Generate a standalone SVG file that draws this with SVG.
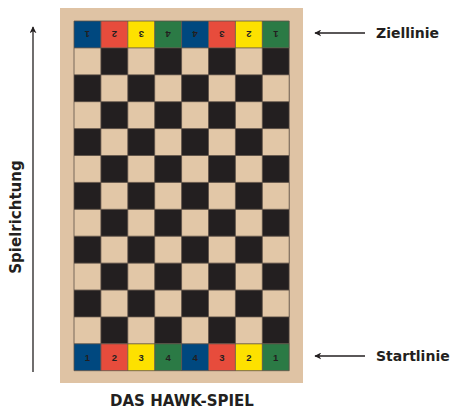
<svg xmlns="http://www.w3.org/2000/svg" width="454" height="410" viewBox="0 0 454 410">
  <defs>
    <style>
      .board { fill: #dfc3a4; }
      .lt { fill: #e2c7a7; }
      .dk { fill: #231f20; }
      .b { fill: #00487f; }
      .r { fill: #e74c3c; }
      .y { fill: #fde100; }
      .g { fill: #2b7a45; }
      .grid { fill: none; stroke: #5e5247; stroke-width: 0.8; }
      .num { font-family: "Liberation Sans", Arial, sans-serif; font-size: 9.5px; font-weight: bold; fill: #231f20; text-anchor: middle; }
      .lbl { font-family: "DejaVu Sans", "Liberation Sans", sans-serif; font-size: 14px; font-weight: bold; fill: #231f20; }
      .line { stroke: #231f20; stroke-width: 1.3; fill: none; }
    </style>
    <marker id="ah" viewBox="0 0 10 10" refX="9" refY="5" markerWidth="7" markerHeight="7" markerUnits="userSpaceOnUse" orient="auto">
      <path d="M0,0 L10,5 L0,10 L3,5 Z" fill="#231f20"/>
    </marker>
    <pattern id="chk" x="74" y="48" width="53.8" height="53.8" patternUnits="userSpaceOnUse">
      <rect width="53.8" height="53.8" class="dk"/>
      <rect x="0" y="0" width="26.9" height="26.9" class="lt"/>
      <rect x="26.9" y="26.9" width="26.9" height="26.9" class="lt"/>
    </pattern>
  </defs>

  <rect width="454" height="410" fill="#ffffff"/>

  <!-- board -->
  <g id="board">
    <rect class="board" x="60" y="8" width="243" height="375"/>
    <rect x="74" y="47.9" width="215.2" height="295.9" fill="url(#chk)"/>

    <!-- finish row (numbers upside down) -->
    <g id="finish-row">
      <rect class="b" x="74" y="21" width="26.9" height="26.9"/>
      <rect class="r" x="100.9" y="21" width="26.9" height="26.9"/>
      <rect class="y" x="127.8" y="21" width="26.9" height="26.9"/>
      <rect class="g" x="154.7" y="21" width="26.9" height="26.9"/>
      <rect class="b" x="181.6" y="21" width="26.9" height="26.9"/>
      <rect class="r" x="208.5" y="21" width="26.9" height="26.9"/>
      <rect class="y" x="235.4" y="21" width="26.9" height="26.9"/>
      <rect class="g" x="262.3" y="21" width="26.9" height="26.9"/>
      <text class="num" transform="translate(87.45,34.45) rotate(180)" y="3.4">1</text>
      <text class="num" transform="translate(114.35,34.45) rotate(180)" y="3.4">2</text>
      <text class="num" transform="translate(141.25,34.45) rotate(180)" y="3.4">3</text>
      <text class="num" transform="translate(168.15,34.45) rotate(180)" y="3.4">4</text>
      <text class="num" transform="translate(195.05,34.45) rotate(180)" y="3.4">4</text>
      <text class="num" transform="translate(221.95,34.45) rotate(180)" y="3.4">3</text>
      <text class="num" transform="translate(248.85,34.45) rotate(180)" y="3.4">2</text>
      <text class="num" transform="translate(275.75,34.45) rotate(180)" y="3.4">1</text>
    </g>

    <!-- start row -->
    <g id="start-row">
      <rect class="b" x="74" y="343.8" width="26.9" height="26.9"/>
      <rect class="r" x="100.9" y="343.8" width="26.9" height="26.9"/>
      <rect class="y" x="127.8" y="343.8" width="26.9" height="26.9"/>
      <rect class="g" x="154.7" y="343.8" width="26.9" height="26.9"/>
      <rect class="b" x="181.6" y="343.8" width="26.9" height="26.9"/>
      <rect class="r" x="208.5" y="343.8" width="26.9" height="26.9"/>
      <rect class="y" x="235.4" y="343.8" width="26.9" height="26.9"/>
      <rect class="g" x="262.3" y="343.8" width="26.9" height="26.9"/>
      <text class="num" x="87.45" y="360.6">1</text>
      <text class="num" x="114.35" y="360.6">2</text>
      <text class="num" x="141.25" y="360.6">3</text>
      <text class="num" x="168.15" y="360.6">4</text>
      <text class="num" x="195.05" y="360.6">4</text>
      <text class="num" x="221.95" y="360.6">3</text>
      <text class="num" x="248.85" y="360.6">2</text>
      <text class="num" x="275.75" y="360.6">1</text>
    </g>

    <!-- cell grid lines -->
    <path class="grid" d="M74,21 H289.2 V370.7 H74 Z
      M100.9,21 V370.7 M127.8,21 V370.7 M154.7,21 V370.7 M181.6,21 V370.7 M208.5,21 V370.7 M235.4,21 V370.7 M262.3,21 V370.7
      M74,47.9 H289.2 M74,74.8 H289.2 M74,101.7 H289.2 M74,128.6 H289.2 M74,155.5 H289.2 M74,182.4 H289.2
      M74,209.3 H289.2 M74,236.2 H289.2 M74,263.1 H289.2 M74,290 H289.2 M74,316.9 H289.2 M74,343.8 H289.2"/>
  </g>

  <!-- connectors -->
  <g id="connectors">
    <line class="line" x1="33" y1="372" x2="33" y2="27" marker-end="url(#ah)"/>
    <line class="line" x1="365" y1="33" x2="315" y2="33" marker-end="url(#ah)"/>
    <line class="line" x1="365" y1="356" x2="315" y2="356" marker-end="url(#ah)"/>
  </g>

  <!-- labels -->
  <g id="label-finish"><text class="lbl" x="376" y="38">Ziellinie</text></g>
  <g id="label-start"><text class="lbl" x="376" y="361">Startlinie</text></g>
  <g id="label-direction"><text class="lbl" style="font-size:15px" transform="translate(21,217) rotate(-90)" text-anchor="middle">Spielrichtung</text></g>
  <g id="title"><text class="lbl" style="font-size:15px" x="182" y="406" text-anchor="middle">DAS HAWK-SPIEL</text></g>
</svg>
